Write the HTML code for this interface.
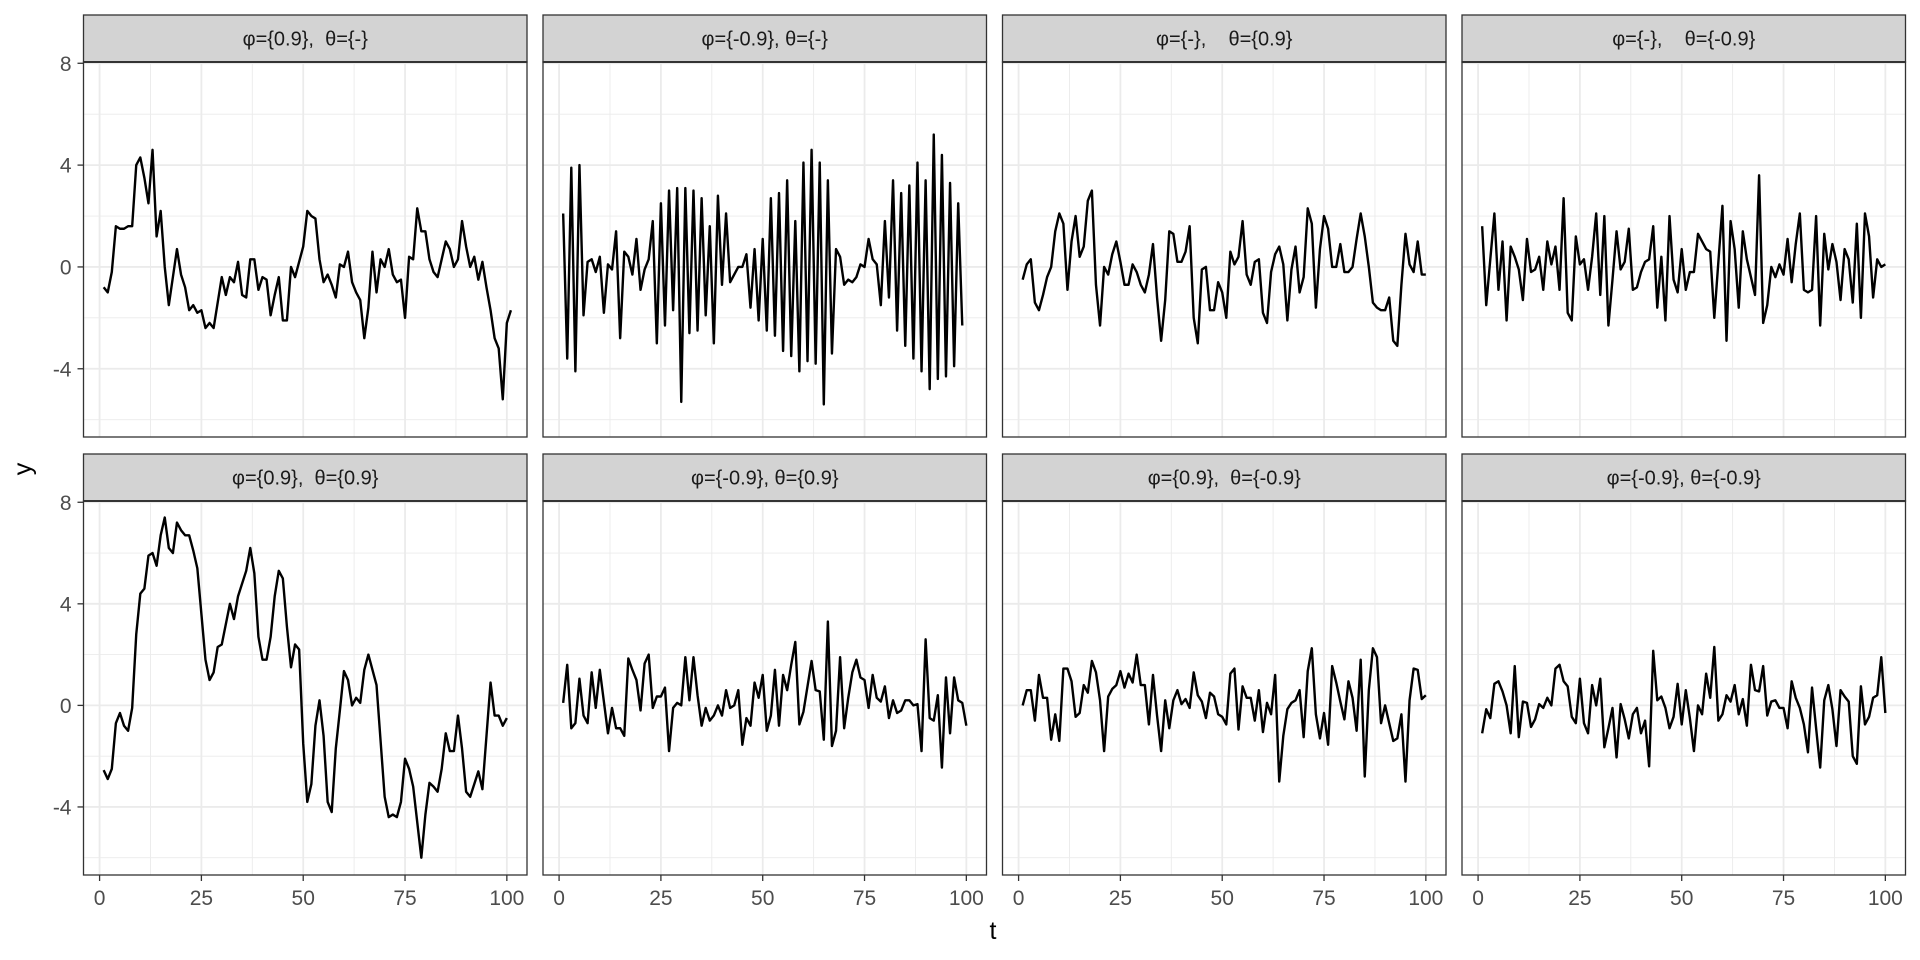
<!DOCTYPE html>
<html><head><meta charset="utf-8"><style>
html,body{margin:0;padding:0;background:#fff;}
svg{display:block;font-family:"Liberation Sans",Arial,sans-serif;}
</style></head><body>
<svg id="chart" width="1920" height="960" viewBox="0 0 1920 960" xmlns="http://www.w3.org/2000/svg"></svg>
<script>
const panelTitles = ["φ={0.9},  θ={-}","φ={-0.9}, θ={-}","φ={-},    θ={0.9}","φ={-},    θ={-0.9}","φ={0.9},  θ={0.9}","φ={-0.9}, θ={0.9}","φ={0.9},  θ={-0.9}","φ={-0.9}, θ={-0.9}"];
const xTicks = [0,25,50,75,100];
const yTicks = [-4,0,4,8];
const xTickLabels = ["0","25","50","75","100"];
const yTickLabels = ["-4","0","4","8"];
const s1 = [-0.8,-1.0,-0.2,1.6,1.5,1.5,1.6,1.6,4.0,4.3,3.5,2.5,4.6,1.2,2.2,0.0,-1.5,-0.4,0.7,-0.3,-0.8,-1.7,-1.5,-1.8,-1.7,-2.4,-2.2,-2.4,-1.4,-0.4,-1.1,-0.4,-0.6,0.2,-1.1,-1.2,0.3,0.3,-0.9,-0.4,-0.5,-1.9,-1.1,-0.4,-2.1,-2.1,0.0,-0.4,0.2,0.8,2.2,2.0,1.9,0.3,-0.6,-0.3,-0.7,-1.2,0.1,0.0,0.6,-0.6,-1.0,-1.3,-2.8,-1.6,0.6,-1.0,0.3,0.0,0.7,-0.3,-0.6,-0.5,-2.0,0.4,0.3,2.3,1.4,1.4,0.3,-0.2,-0.4,0.3,1.0,0.7,0.0,0.3,1.8,0.8,0.0,0.4,-0.5,0.2,-0.8,-1.7,-2.8,-3.2,-5.2,-2.2,-1.7];
const s2 = [2.1,-3.6,3.9,-4.1,4.0,-1.9,0.2,0.3,-0.2,0.4,-1.8,0.1,-0.1,1.4,-2.8,0.6,0.4,-0.3,1.1,-0.9,-0.1,0.3,1.8,-3.0,2.5,-2.3,3.0,-1.7,3.1,-5.3,3.1,-2.6,3.0,-2.5,2.7,-1.9,1.6,-3.0,2.8,-0.7,2.1,-0.6,-0.3,0.0,0.0,0.5,-1.6,0.7,-2.1,1.1,-2.5,2.7,-2.7,2.9,-3.3,3.4,-3.5,1.8,-4.1,4.1,-3.7,4.6,-3.8,4.1,-5.4,3.4,-3.4,0.7,0.4,-0.7,-0.5,-0.6,-0.4,0.1,0.0,1.1,0.3,0.1,-1.5,1.8,-1.2,3.4,-2.5,2.9,-3.1,3.2,-3.6,4.1,-4.1,3.4,-4.8,5.2,-4.4,4.4,-4.3,3.3,-3.9,2.5,-2.3];
const s3 = [-0.5,0.1,0.3,-1.4,-1.7,-1.1,-0.4,0.0,1.4,2.1,1.7,-0.9,1.0,2.0,0.4,0.8,2.6,3.0,-0.7,-2.3,0.0,-0.3,0.5,1.0,0.2,-0.7,-0.7,0.1,-0.2,-0.7,-1.0,-0.3,0.9,-1.2,-2.9,-1.3,1.4,1.3,0.2,0.2,0.6,1.6,-2.0,-3.0,-0.1,0.0,-1.7,-1.7,-0.6,-1.0,-2.0,0.6,0.1,0.4,1.8,-0.3,-0.7,0.2,0.3,-1.8,-2.2,-0.2,0.5,0.8,0.1,-2.1,-0.1,0.8,-1.0,-0.4,2.3,1.7,-1.6,0.7,2.0,1.5,0.0,0.0,0.9,-0.2,-0.2,0.0,1.1,2.1,1.2,0.0,-1.4,-1.6,-1.7,-1.7,-1.2,-2.9,-3.1,-0.7,1.3,0.1,-0.2,1.0,-0.3,-0.3];
const s4 = [1.6,-1.5,0.3,2.1,-0.9,1.0,-2.1,0.8,0.4,-0.1,-1.3,1.1,-0.2,-0.1,0.4,-0.9,1.0,0.1,0.8,-0.9,2.7,-1.8,-2.1,1.2,0.1,0.3,-0.9,0.4,2.1,-1.1,2.0,-2.3,-0.5,1.4,-0.1,0.2,1.5,-0.9,-0.8,-0.2,0.2,0.3,1.6,-1.6,0.4,-2.1,2.0,-0.5,-1.0,0.7,-0.9,-0.2,-0.2,1.3,1.0,0.7,0.6,-2.0,0.2,2.4,-2.9,1.8,0.7,-1.6,1.4,0.3,-0.4,-1.1,3.6,-2.2,-1.5,0.0,-0.4,0.1,-0.3,1.1,-0.6,0.9,2.1,-0.9,-1.0,-0.9,2.0,-2.3,1.3,-0.1,0.9,0.2,-1.3,0.7,0.3,-1.4,1.7,-2.0,2.1,1.2,-1.2,0.3,0.0,0.1];
const s5 = [-2.55,-2.9,-2.5,-0.7,-0.3,-0.8,-1.0,-0.1,2.8,4.4,4.6,5.9,6.0,5.5,6.7,7.4,6.2,6.0,7.2,6.9,6.7,6.7,6.1,5.4,3.6,1.8,1.0,1.3,2.3,2.4,3.2,4.0,3.4,4.3,4.8,5.3,6.2,5.2,2.7,1.8,1.8,2.7,4.3,5.3,5.0,3.1,1.5,2.4,2.2,-1.5,-3.8,-3.1,-0.8,0.2,-1.2,-3.8,-4.2,-1.7,-0.2,1.35,1.0,0.0,0.3,0.1,1.4,2.0,1.4,0.8,-1.4,-3.6,-4.4,-4.3,-4.4,-3.8,-2.1,-2.5,-3.2,-4.6,-6.0,-4.3,-3.05,-3.2,-3.4,-2.5,-1.1,-1.8,-1.8,-0.4,-1.7,-3.4,-3.6,-3.1,-2.6,-3.3,-1.2,0.9,-0.4,-0.4,-0.8,-0.5];
const s6 = [0.1,1.6,-0.9,-0.7,1.05,-0.4,-0.7,1.3,-0.1,1.4,0.15,-1.1,-0.1,-0.9,-0.9,-1.2,1.85,1.4,1.0,-0.2,1.65,2.0,-0.1,0.35,0.35,0.7,-1.8,-0.1,0.1,0.0,1.9,0.2,1.9,0.4,-0.8,-0.1,-0.6,-0.4,0.0,-0.4,0.6,-0.1,0.0,0.6,-1.55,-0.5,-0.8,0.9,0.3,1.2,-1.0,-0.4,1.4,-0.8,1.2,0.6,1.6,2.5,-0.75,-0.25,0.75,1.75,0.6,0.55,-1.35,3.3,-1.6,-1.0,1.9,-0.9,0.3,1.3,1.8,1.1,1.0,-0.1,1.2,0.3,0.15,0.75,-0.5,0.2,-0.3,-0.2,0.2,0.2,0.0,0.05,-1.8,2.6,-0.5,-0.6,0.4,-2.45,1.1,-1.1,1.1,0.2,0.1,-0.8];
const s7 = [0.0,0.6,0.6,-0.6,1.2,0.3,0.3,-1.35,-0.35,-1.4,1.45,1.45,0.95,-0.45,-0.3,0.8,0.5,1.75,1.3,0.2,-1.8,0.35,0.65,0.8,1.35,0.7,1.25,0.9,2.0,0.8,0.8,-0.75,1.2,-0.4,-1.8,0.2,-0.9,0.2,0.6,0.05,0.25,-0.1,1.3,0.4,0.15,-0.5,0.5,0.35,-0.35,-0.45,-0.75,1.25,1.45,-0.95,0.75,0.3,0.3,-0.6,0.6,-1.05,0.1,-0.35,1.2,-3.0,-1.2,-0.15,0.1,0.2,0.6,-1.25,1.35,2.25,-0.35,-1.3,-0.3,-1.55,1.55,0.9,0.15,-0.55,0.95,0.3,-1.0,1.8,-2.8,0.6,2.25,1.9,-0.7,0.0,-0.7,-1.4,-1.3,-0.35,-3.0,0.2,1.45,1.4,0.25,0.4];
const s8 = [-1.1,-0.15,-0.5,0.85,0.95,0.55,0.0,-1.1,1.55,-1.25,0.15,0.1,-0.85,-0.55,0.05,-0.1,0.3,0.0,1.45,1.6,0.95,0.75,-0.45,-0.7,1.05,-0.7,-1.1,0.8,0.0,1.05,-1.65,-0.9,-0.1,-2.05,0.05,-0.55,-1.3,-0.35,-0.1,-1.1,-0.6,-2.4,2.15,0.2,0.35,-0.1,-0.9,-0.45,0.85,-0.75,0.6,-0.5,-1.8,0.0,-0.35,1.25,0.3,2.3,-0.6,-0.35,0.4,0.15,0.8,-0.35,0.25,-0.8,1.6,0.6,0.55,1.55,-0.4,0.15,0.2,-0.1,-0.1,-0.9,0.95,0.3,-0.1,-0.75,-1.85,0.7,-0.9,-2.45,0.2,0.8,-0.15,-1.6,0.6,0.35,0.15,-2.0,-2.3,0.75,-0.75,-0.45,0.3,0.4,1.9,-0.3];
const seriesList = [s1,s2,s3,s4,s5,s6,s7,s8];

const NS = "http://www.w3.org/2000/svg";
const svg = document.getElementById('chart');
const PW = 443.5, GAP = 16, LEFT0 = 83.5;
const rowsGeom = [{stripTop:15, top:62, bottom:437},{stripTop:454, top:501, bottom:875}];
const xDom = [-3.95, 104.95];
const yDom = [-6.68, 8.05];
function mk(tag, attrs, parent){ const e=document.createElementNS(NS,tag); for(const k in attrs) e.setAttribute(k,attrs[k]); (parent||svg).appendChild(e); return e; }
function xScale(left, v){ return left + (v - xDom[0]) / (xDom[1]-xDom[0]) * PW; }
function yScale(g, v){ return g.bottom - (v - yDom[0]) / (yDom[1]-yDom[0]) * (g.bottom - g.top); }

for (let p = 0; p < 8; p++) {
  const r = Math.floor(p/4), c = p%4;
  const g = rowsGeom[r];
  const left = LEFT0 + c*(PW+GAP);
  const grp = mk('g', {});
  
  
  mk('rect', {x:left, y:g.top, width:PW, height:g.bottom-g.top, fill:'#fff'}, grp);
  for (let i = 0; i < xTicks.length-1; i++) {
    const xv = (xTicks[i]+xTicks[i+1])/2, X = xScale(left, xv);
    mk('line', {x1:X, x2:X, y1:g.top, y2:g.bottom, stroke:'#EBEBEB', 'stroke-width':0.9}, grp);
  }
  for (let i = 0; i < yTicks.length; i++) {
    const Y = yScale(g, yTicks[i]-2);
    mk('line', {x1:left, x2:left+PW, y1:Y, y2:Y, stroke:'#EBEBEB', 'stroke-width':0.9}, grp);
  }
  xTicks.forEach(v => { const X = xScale(left, v); mk('line', {x1:X, x2:X, y1:g.top, y2:g.bottom, stroke:'#EBEBEB', 'stroke-width':1.8}, grp); });
  yTicks.forEach(v => { const Y = yScale(g, v); mk('line', {x1:left, x2:left+PW, y1:Y, y2:Y, stroke:'#EBEBEB', 'stroke-width':1.8}, grp); });
  const data = seriesList[p];
  const pts = data.map((v,i) => xScale(left, i+1).toFixed(2) + ',' + yScale(g, v).toFixed(2)).join(' ');
  const line = mk('polyline', {points:pts, fill:'none', stroke:'#000', 'stroke-width':2.4, 'stroke-linejoin':'round'}, grp);
  
  
  mk('rect', {x:left, y:g.top, width:PW, height:g.bottom-g.top, fill:'none', stroke:'#333', 'stroke-width':1.3}, grp);
  const strip = mk('rect', {x:left, y:g.stripTop, width:PW, height:g.top-g.stripTop, fill:'#D3D3D3', stroke:'#333', 'stroke-width':1.3}, grp);
  
  
  mk('line', {x1:left, x2:left+PW, y1:g.top, y2:g.top, stroke:'#333', 'stroke-width':2}, grp);
  const st = mk('text', {x:left+PW/2, y:(g.stripTop+g.top)/2+7, 'text-anchor':'middle', 'font-size':20, fill:'#1A1A1A', 'xml:space':'preserve', style:'white-space:pre'}, grp);
  st.textContent = panelTitles[p];
  
  
  if (c === 0) {
    yTicks.forEach((v,i) => {
      const Y = yScale(g, v);
      mk('line', {x1:left-6, x2:left, y1:Y, y2:Y, stroke:'#333', 'stroke-width':1.3}, grp);
      const t = mk('text', {x:left-12, y:Y+7.5, 'text-anchor':'end', 'font-size':21, fill:'#4D4D4D'}, grp);
      t.textContent = yTickLabels[i];
      
      
    });
  }
  if (r === 1) {
    xTicks.forEach((v,i) => {
      const X = xScale(left, v);
      mk('line', {x1:X, x2:X, y1:g.bottom, y2:g.bottom+6, stroke:'#333', 'stroke-width':1.3}, grp);
      const t = mk('text', {x:X, y:g.bottom+30, 'text-anchor':'middle', 'font-size':21, fill:'#4D4D4D'}, grp);
      t.textContent = xTickLabels[i];
      
      
    });
  }
}
const xt = mk('text', {x:993, y:939, 'text-anchor':'middle', 'font-size':25, fill:'#000'});
xt.textContent = 't';


const yt = mk('text', {x:0, y:0, 'text-anchor':'middle', 'font-size':25, fill:'#000', transform:'translate(31,469) rotate(-90)'});
yt.textContent = 'y';


</script>
</body></html>
